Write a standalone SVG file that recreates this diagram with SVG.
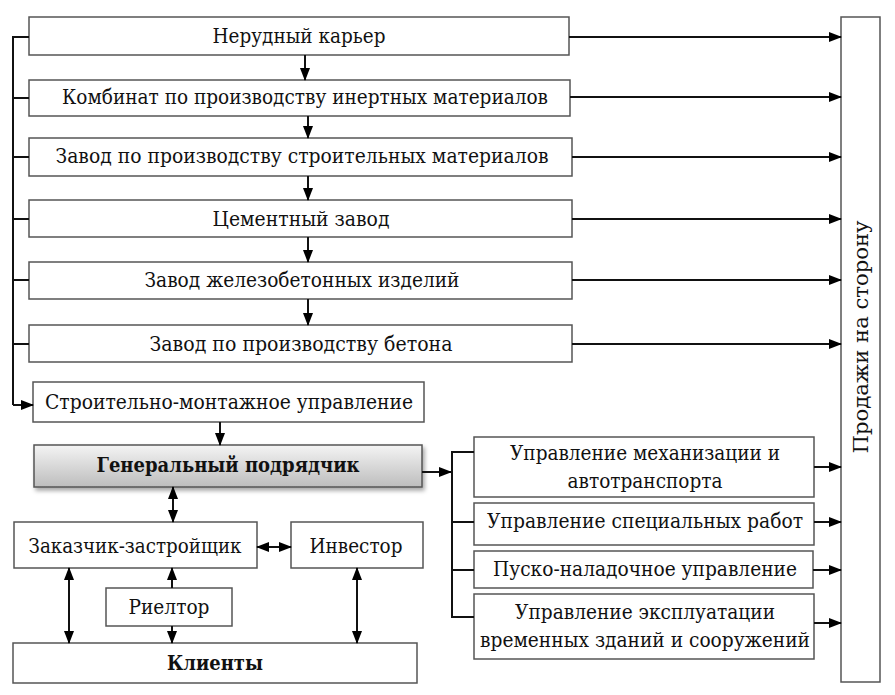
<svg xmlns="http://www.w3.org/2000/svg" width="895" height="695" viewBox="0 0 895 695">
<defs>
<marker id="ah" markerWidth="13" markerHeight="10" refX="12" refY="5" orient="auto" markerUnits="userSpaceOnUse">
<path d="M0,0 L13,5 L0,10 Z" fill="#000"/>
</marker>
<marker id="as" markerWidth="13" markerHeight="10" refX="1" refY="5" orient="auto" markerUnits="userSpaceOnUse">
<path d="M13,0 L0,5 L13,10 Z" fill="#000"/>
</marker>
<linearGradient id="gg" x1="0" y1="0" x2="0" y2="1">
<stop offset="0" stop-color="#f4f4f4"/>
<stop offset="1" stop-color="#bdbdbd"/>
</linearGradient>
<filter id="sh" x="-5%" y="-20%" width="110%" height="150%">
<feDropShadow dx="2" dy="3" stdDeviation="2" flood-color="#000" flood-opacity="0.35"/>
</filter>
</defs>
<style>
.b{fill:#fff;stroke:#555;stroke-width:1.5}
.t{font-family:"DejaVu Serif","Liberation Serif","Times New Roman",serif;font-size:19.5px;fill:#111;text-anchor:middle}
.bd{font-weight:bold}
.c{fill:none;stroke:#111;stroke-width:2}
</style>
<rect width="895" height="695" fill="#fff"/>
<g id="n1"><rect class="b" x="29" y="17" width="540" height="38"/><text class="t" x="299" y="43" textLength="173" lengthAdjust="spacingAndGlyphs">Нерудный карьер</text></g>
<g id="n2"><rect class="b" x="29" y="80" width="541" height="36"/><text class="t" x="305" y="104" textLength="486" lengthAdjust="spacingAndGlyphs">Комбинат по производству инертных материалов</text></g>
<g id="n3"><rect class="b" x="29" y="138" width="543" height="38"/><text class="t" x="302" y="163" textLength="493" lengthAdjust="spacingAndGlyphs">Завод по производству строительных материалов</text></g>
<g id="n4"><rect class="b" x="29" y="200" width="543" height="37"/><text class="t" x="301" y="226" textLength="177" lengthAdjust="spacingAndGlyphs">Цементный завод</text></g>
<g id="n5"><rect class="b" x="29" y="262" width="543" height="37"/><text class="t" x="302" y="287" textLength="315" lengthAdjust="spacingAndGlyphs">Завод железобетонных изделий</text></g>
<g id="n6"><rect class="b" x="29" y="325" width="543" height="37"/><text class="t" x="301" y="351" textLength="303" lengthAdjust="spacingAndGlyphs">Завод по производству бетона</text></g>
<g id="n7"><rect class="b" x="33" y="382" width="391" height="40"/><text class="t" x="229" y="409" textLength="368" lengthAdjust="spacingAndGlyphs">Строительно-монтажное управление</text></g>
<g id="n8"><rect x="34" y="445" width="388" height="42" fill="url(#gg)" stroke="#555" stroke-width="1.5" filter="url(#sh)"/><text class="t bd" x="228" y="472" textLength="263" lengthAdjust="spacingAndGlyphs">Генеральный подрядчик</text></g>
<g id="n9"><rect class="b" x="14" y="522" width="243" height="46"/><text class="t" x="135" y="553" textLength="213" lengthAdjust="spacingAndGlyphs">Заказчик-застройщик</text></g>
<g id="n10"><rect class="b" x="291" y="522" width="132" height="46"/><text class="t" x="356" y="553" textLength="93" lengthAdjust="spacingAndGlyphs">Инвестор</text></g>
<g id="n11"><rect class="b" x="106" y="588" width="126" height="38"/><text class="t" x="169" y="614" textLength="81" lengthAdjust="spacingAndGlyphs">Риелтор</text></g>
<g id="n12"><rect class="b" x="13" y="643" width="404" height="40"/><text class="t bd" x="215" y="670" textLength="96" lengthAdjust="spacingAndGlyphs">Клиенты</text></g>
<g id="n13"><rect class="b" x="474" y="437" width="340" height="60"/><text class="t" x="645" y="460" textLength="270" lengthAdjust="spacingAndGlyphs">Управление механизации и</text><text class="t" x="645" y="488" textLength="155" lengthAdjust="spacingAndGlyphs">автотранспорта</text></g>
<g id="n14"><rect class="b" x="474" y="503" width="340" height="42"/><text class="t" x="645" y="528" textLength="316" lengthAdjust="spacingAndGlyphs">Управление специальных работ</text></g>
<g id="n15"><rect class="b" x="474" y="551" width="339" height="37"/><text class="t" x="645" y="576" textLength="304" lengthAdjust="spacingAndGlyphs">Пуско-наладочное управление</text></g>
<g id="n16"><rect class="b" x="474" y="594" width="340" height="65"/><text class="t" x="645" y="619" textLength="260" lengthAdjust="spacingAndGlyphs">Управление эксплуатации</text><text class="t" x="645" y="647" textLength="330" lengthAdjust="spacingAndGlyphs">временных зданий и сооружений</text></g>
<g id="n17"><rect class="b" x="841" y="17" width="39" height="665"/><text class="t" transform="translate(868,337) rotate(-90)" x="0" y="0" textLength="233" lengthAdjust="spacingAndGlyphs">Продажи на сторону</text></g>
<g id="connectors">
<path class="c" d="M29,37 H13 V405"/>
<path class="c" d="M13,98 H29 M13,157 H29 M13,219 H29 M13,280 H29 M13,344 H29"/>
<path class="c" d="M13,405 H33" marker-end="url(#ah)"/>
<path class="c" d="M305,55 V80" marker-end="url(#ah)"/>
<path class="c" d="M308,116 V138" marker-end="url(#ah)"/>
<path class="c" d="M308,176 V200" marker-end="url(#ah)"/>
<path class="c" d="M308,237 V262" marker-end="url(#ah)"/>
<path class="c" d="M308,299 V325" marker-end="url(#ah)"/>
<path class="c" d="M569,37 H841" marker-end="url(#ah)"/>
<path class="c" d="M570,97 H841" marker-end="url(#ah)"/>
<path class="c" d="M572,157 H841" marker-end="url(#ah)"/>
<path class="c" d="M572,219 H841" marker-end="url(#ah)"/>
<path class="c" d="M572,280 H841" marker-end="url(#ah)"/>
<path class="c" d="M572,344 H841" marker-end="url(#ah)"/>
<path class="c" d="M220,422 V445" marker-end="url(#ah)"/>
<path class="c" d="M422,472 H451" marker-end="url(#ah)"/>
<path class="c" d="M474,452 H452 V617 H474 M452,522 H474 M452,570 H474"/>
<path class="c" d="M814,467 H841" marker-end="url(#ah)"/>
<path class="c" d="M814,522 H841" marker-end="url(#ah)"/>
<path class="c" d="M813,570 H841" marker-end="url(#ah)"/>
<path class="c" d="M814,623 H841" marker-end="url(#ah)"/>
<path class="c" d="M173,487 V522" marker-start="url(#as)" marker-end="url(#ah)"/>
<path class="c" d="M257,547 H291" marker-start="url(#as)" marker-end="url(#ah)"/>
<path class="c" d="M69,568 V643" marker-start="url(#as)" marker-end="url(#ah)"/>
<path class="c" d="M357,568 V643" marker-start="url(#as)" marker-end="url(#ah)"/>
<path class="c" d="M172,588 V568" marker-end="url(#ah)"/>
<path class="c" d="M172,626 V643" marker-end="url(#ah)"/>
</g>
</svg>
